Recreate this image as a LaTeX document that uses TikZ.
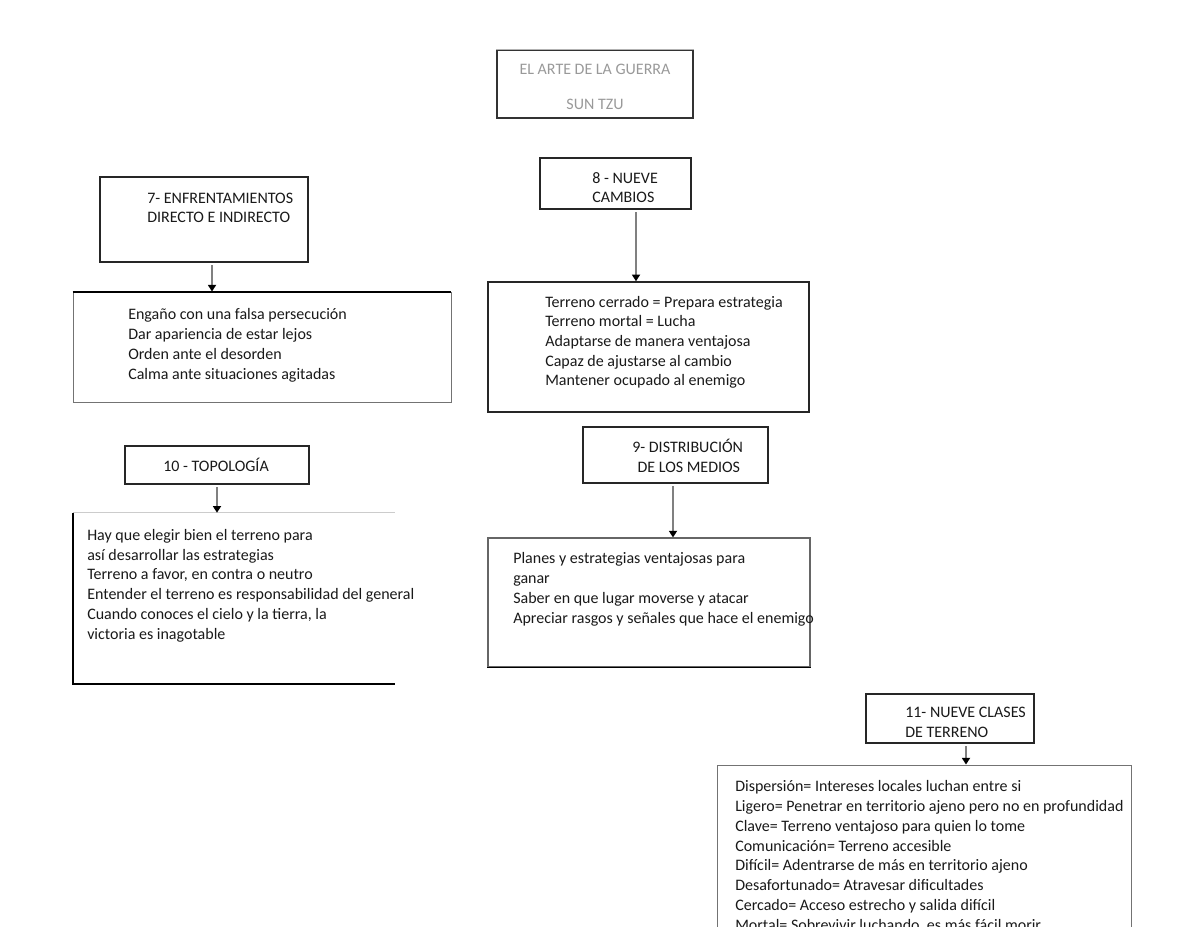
\documentclass[tikz,border=0pt]{standalone}
\usepackage{fontspec}
\setmainfont{Carlito}
\usetikzlibrary{fit,arrows.meta}
\begin{document}
\begin{tikzpicture}[x=0.75pt,y=-0.75pt,
  boxframe/.style={draw=black!85, line width=0.9pt, inner sep=0pt},
  areaframe/.style={inner sep=0pt},
  txt/.style={font=\fontsize{12}{14.8}\selectfont, align=left, anchor=base west, inner sep=0pt, text=black!90},
  ttl/.style={font=\fontsize{12}{14.8}\selectfont, anchor=base, inner sep=0pt, text=black!40},
  arr/.style={draw=black!50, line width=1.8pt, -{Triangle[width=6pt,length=5pt,color=black]}},
  thin/.style={draw=black!45, line width=0.6pt},
  heavy/.style={draw=black, line width=1.5pt}]
\useasboundingbox (0,0) rectangle (1200,927);
\clip (0,0) rectangle (1200,927);

% title
\node[boxframe, draw=black!80, fit={(497,50) (693,118)}] (title) {};
\draw[thin, draw=black!30] (title.north west) -- (title.north east);
\node[ttl] (tt1) at (595,75) {EL ARTE DE LA GUERRA};
\node[ttl] (tt2) at (595,110) {SUN TZU};

% 7 (text anchors are at the baseline of the last line)
\node[boxframe, fit={(100,177) (308,262)}] (h7) {};
\node[txt] (h7t) at (147,223) {7- ENFRENTAMIENTOS\\DIRECTO E INDIRECTO};
\node[boxframe, draw=black!55, line width=0.7pt, fit={(73,292) (451,402)}] (c7) {};
\draw[heavy] (c7.north west) -- (c7.north east);
\node[txt] (c7t) at (128,379) {Engaño con una falsa persecución\\Dar apariencia de estar lejos\\Orden ante el desorden\\Calma ante situaciones agitadas};

% 8
\node[boxframe, fit={(540,158) (691,209)}] (h8) {};
\node[txt] (h8t) at (592,203) {8 - NUEVE\\CAMBIOS};
\node[boxframe, line width=1.1pt, fit={(488,282) (809,412)}] (c8) {};
\node[txt] (c8t) at (545,386) {Terreno cerrado = Prepara estrategia\\Terreno mortal = Lucha\\Adaptarse de manera ventajosa\\Capaz de ajustarse al cambio\\Mantener ocupado al enemigo};

% 10
\node[boxframe, fit={(125,446) (309,484)}] (h10) {};
\node[txt] (h10t) at (163,471) {10 - TOPOLOGÍA};
\node[areaframe, fit={(73,513) (395,684)}] (c10) {};
\draw[thin, draw=black!20] (c10.north west) -- (c10.north east);
\draw[heavy] (c10.north west) -- (c10.south west) -- (c10.south east);
\node[txt] (c10t) at (87,639) {Hay que elegir bien el terreno para\\así desarrollar las estrategias\\Terreno a favor, en contra o neutro\\Entender el terreno es responsabilidad del general\\Cuando conoces el cielo y la tierra, la\\victoria es inagotable};

% 9
\node[boxframe, fit={(583,427) (768,483)}] (h9) {};
\node[txt] (h9t) at (632,472) {9- DISTRIBUCIÓN\\\hspace*{4pt}DE LOS MEDIOS};
\node[boxframe, draw=black!60, line width=0.8pt, fit={(488,538) (810,667)}] (c9) {};
\draw[draw=black, line width=1.1pt] (c9.south west) -- (c9.south east);
\node[txt] (c9t) at (513,623) {Planes y estrategias ventajosas para\\ganar\\Saber en que lugar moverse y atacar\\Apreciar rasgos y señales que hace el enemigo};

% 11
\node[boxframe, fit={(866,694) (1034,743)}] (h11) {};
\node[txt] (h11t) at (905,737) {11- NUEVE CLASES\\DE TERRENO};
\node[boxframe, draw=black!55, line width=0.7pt, fit={(717,765) (1131,980)}] (c11) {};
\node[txt] (c11t) at (735,930) {Dispersión= Intereses locales luchan entre si\\Ligero= Penetrar en territorio ajeno pero no en profundidad\\Clave= Terreno ventajoso para quien lo tome\\Comunicación= Terreno accesible\\Difícil= Adentrarse de más en territorio ajeno\\Desafortunado= Atravesar dificultades\\Cercado= Acceso estrecho y salida difícil\\Mortal= Sobrevivir luchando, es más fácil morir};

% arrows
\coordinate (x7) at (212,0);
\coordinate (x8) at (636,0);
\coordinate (x10) at (217,0);
\coordinate (x9) at (673,0);
\coordinate (x11) at (966,0);
\draw[arr] ([yshift=-2pt]h7.south -| x7) -- (c7.north -| x7);
\draw[arr] ([yshift=-2pt]h8.south -| x8) -- (c8.north -| x8);
\draw[arr] ([yshift=-2pt]h10.south -| x10) -- (c10.north -| x10);
\draw[arr] ([yshift=-2pt]h9.south -| x9) -- (c9.north -| x9);
\draw[arr] ([yshift=-2pt]h11.south -| x11) -- (c11.north -| x11);
\end{tikzpicture}
\end{document}
